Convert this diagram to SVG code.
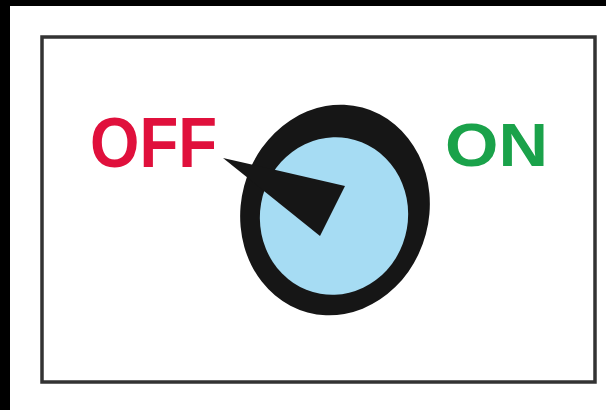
<svg xmlns="http://www.w3.org/2000/svg" width="606" height="410" viewBox="0 0 606 410">
<style>
.lbl{font-family:"Liberation Sans",Arial,sans-serif;font-weight:bold}
</style>
<rect x="0" y="0" width="606" height="410" fill="#ffffff"/>
<rect x="0" y="0" width="606" height="6" fill="#000000"/>
<rect x="0" y="0" width="10" height="410" fill="#000000"/>
<rect x="42" y="37" width="553" height="345" fill="#ffffff" stroke="#333333" stroke-width="3.5"/>
<g id="off-label">
<text class="lbl" x="90" y="167" font-size="70" fill="#e0103c" textLength="127" lengthAdjust="spacingAndGlyphs">OFF</text>
</g>
<g id="on-label">
<text class="lbl" x="445" y="166" font-size="61" fill="#1aa24a" textLength="103" lengthAdjust="spacingAndGlyphs">ON</text>
</g>
<g id="knob">
<ellipse cx="335" cy="210" rx="94" ry="106" transform="rotate(15 335 210)" fill="#161616"/>
<ellipse cx="334" cy="216" rx="74" ry="79" transform="rotate(10 334 216)" fill="#a6dcf3"/>
<polygon points="223,158 345,186 320,236" fill="#161616"/>
</g>
</svg>
